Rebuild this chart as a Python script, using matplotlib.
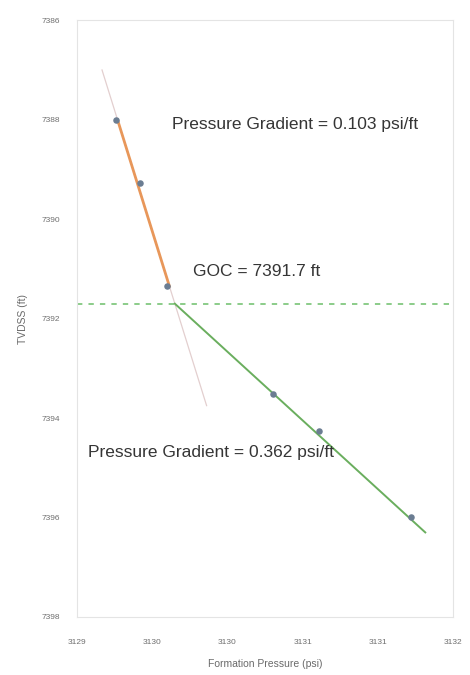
import matplotlib.pyplot as plt
import numpy as np
from matplotlib.ticker import FuncFormatter

plt.rcParams['font.family'] = ['Liberation Sans', 'DejaVu Sans']

# Pressure test points (psi) and depths (ft TVDSS)
gas_pressure = [3129.26, 3129.42, 3129.60]
gas_depth = [7388.0, 7389.27, 7391.35]
oil_pressure = [3130.30, 3130.61, 3131.22]
oil_depth = [7393.52, 7394.26, 7395.98]

GOC_DEPTH = 7391.7
GOC_PRESSURE = 3129.65
GAS_GRADIENT = 0.103   # psi/ft
OIL_GRADIENT = 0.362   # psi/ft

x_ticks = [3129.0, 3129.5, 3130.0, 3130.5, 3131.0, 3131.5]
y_ticks = [7386, 7388, 7390, 7392, 7394, 7396, 7398]


def gas_line(depth):
    return GOC_PRESSURE + GAS_GRADIENT * (np.asarray(depth) - GOC_DEPTH)


def oil_line(depth):
    return GOC_PRESSURE + OIL_GRADIENT * (np.asarray(depth) - GOC_DEPTH)


fig = plt.figure(figsize=(4.7, 6.75), dpi=100)
ax = fig.add_axes([0.164, 0.086, 0.8, 0.884])

# thin extended trend of the gas leg
trend_d = np.array([7387.0, 7393.75])
ax.plot(gas_line(trend_d), trend_d, color='#e3cfcf', lw=0.9, zorder=1)

# gas leg fit
gas_d = np.array([gas_depth[0], gas_depth[-1]])
ax.plot(gas_line(gas_d), gas_d, color='#e8975a', lw=2.0, zorder=2)

# oil leg fit, starting at the contact
oil_d = np.array([GOC_DEPTH, 7396.3])
ax.plot(oil_line(oil_d), oil_d, color='#6aae5e', lw=1.4, zorder=2)

# gas-oil contact
ax.axhline(GOC_DEPTH, color='#6cbf6a', lw=1.1, ls=(0, (3.5, 4)), zorder=1)

ax.scatter(gas_pressure + oil_pressure, gas_depth + oil_depth, s=22,
           color='#6b7d92', zorder=3, linewidths=0)

ax.set_xlim(3129.0, 3131.5)
ax.set_ylim(7398, 7386)
ax.set_xticks(x_ticks)
ax.set_yticks(y_ticks)
ax.xaxis.set_major_formatter(FuncFormatter(lambda v, p: str(int(v + 0.5))))
ax.tick_params(length=0, labelsize=6, colors='#6f6f6f')
ax.tick_params(axis='x', pad=16)
ax.tick_params(axis='y', pad=12)
for s in ax.spines.values():
    s.set_color('#e4e4e4')
    s.set_linewidth(0.8)

ax.set_xlabel('Formation Pressure (psi)', fontsize=7.5, color='#6a6a6a', labelpad=9)
ax.set_ylabel('TVDSS (ft)', fontsize=7.5, color='#6a6a6a', labelpad=10)

text_kw = dict(fontsize=12.5, color='#353535', va='center')
ax.text(3129.63, 7388.1, f'Pressure Gradient = {GAS_GRADIENT} psi/ft', **text_kw)
ax.text(3129.77, 7391.05, f'GOC = {GOC_DEPTH} ft', **text_kw)
ax.text(3129.07, 7394.7, f'Pressure Gradient = {OIL_GRADIENT} psi/ft', **text_kw)

fig.savefig('out.png', dpi=100)
